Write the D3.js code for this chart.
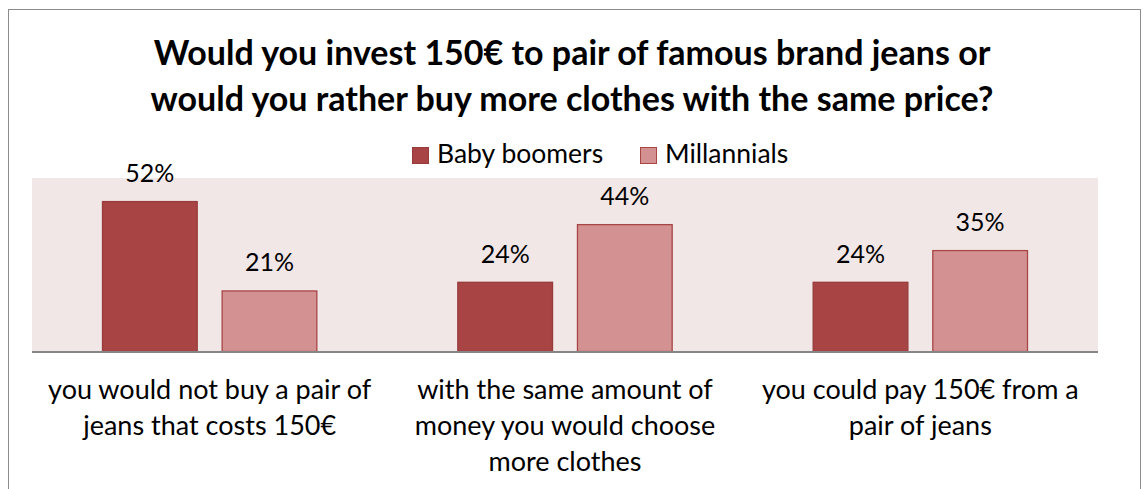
<!DOCTYPE html>
<html><head><meta charset="utf-8">
<script src="https://cdn.jsdelivr.net/npm/d3@7"></script>
<style>
html,body{margin:0;padding:0;background:#fff;}
svg{display:block;font-family:Lato,"Open Sans",sans-serif;}
</style></head>
<body>
<svg id="chart" width="1143" height="489"></svg>
<script>
const titleLines = ["Would you invest 150€ to pair of famous brand jeans or", "would you rather buy more clothes with the same price?"];
const categories = [
  ["you would not buy a pair of", "jeans that costs 150€"],
  ["with the same amount of", "money you would choose", "more clothes"],
  ["you could pay 150€ from a", "pair of jeans"]
];
const seriesNames = ["Baby boomers", "Millannials"];
const babyBoomers = [0.52, 0.24, 0.24];
const millannials = [0.21, 0.44, 0.35];
const yMax = 0.6;

const colors = ["#A84544", "#D49192"];
const strokes = ["#973B3B", "#A84545"];

const svg = d3.select("#chart");
svg.append("rect").attr("x", 8.5).attr("y", 9.5).attr("width", 1132).attr("height", 490)
  .attr("fill", "#fff").attr("stroke", "#8c8c8c").attr("stroke-width", 1);

const plot = {left: 32, right: 1098, top: 178, bottom: 351};
const x0 = d3.scaleBand().domain(d3.range(categories.length)).range([plot.left, plot.right]).paddingInner(0).paddingOuter(0);
const x1 = d3.scaleBand().domain([0, 1]).range([70, x0.bandwidth() - 70]).paddingInner(0.2);
const y = d3.scaleLinear().domain([0, yMax]).range([plot.bottom, plot.top]);

svg.append("rect").attr("x", plot.left).attr("y", plot.top)
  .attr("width", plot.right - plot.left).attr("height", plot.bottom - plot.top).attr("fill", "#F2E7E7");

// title
svg.append("g").selectAll("text").data(titleLines).join("text")
  .attr("x", 572).attr("y", (d, i) => 65 + i * 46)
  .attr("text-anchor", "middle").attr("font-size", 34).attr("font-weight", "bold").attr("fill", "#000")
  .text(d => d);

// legend
const legendItems = [{name: seriesNames[0], x: 412}, {name: seriesNames[1], x: 640}];
const lg = svg.append("g").selectAll("g").data(legendItems).join("g");
lg.append("rect").attr("x", d => d.x + 0.5).attr("y", 147.5).attr("width", 16).attr("height", 16)
  .attr("fill", (d, i) => colors[i]).attr("stroke", (d, i) => strokes[i]);
lg.append("text").attr("x", d => d.x + 25).attr("y", 163).attr("font-size", 26.5).attr("fill", "#000").text(d => d.name);

const data = categories.map((c, i) => ({i, vals: [babyBoomers[i], millannials[i]]}));
const groups = svg.append("g").selectAll("g").data(data).join("g")
  .attr("transform", d => `translate(${x0(d.i)},0)`);

groups.selectAll("rect").data(d => d.vals.map((v, j) => ({v, j}))).join("rect")
  .attr("x", d => x1(d.j) + 0.5).attr("y", d => y(d.v) + 0.5)
  .attr("width", x1.bandwidth() - 1).attr("height", d => plot.bottom - y(d.v))
  .attr("fill", d => colors[d.j]).attr("stroke", d => strokes[d.j]).attr("stroke-width", 1.3);

groups.selectAll("text.val").data(d => d.vals.map((v, j) => ({v, j}))).join("text")
  .attr("class", "val")
  .attr("x", d => x1(d.j) + x1.bandwidth() / 2).attr("y", d => y(d.v) - 19)
  .attr("text-anchor", "middle").attr("font-size", 25).attr("fill", "#000")
  .text(d => d3.format(".0%")(d.v));

svg.append("line").attr("x1", plot.left).attr("x2", plot.right).attr("y1", plot.bottom + 1).attr("y2", plot.bottom + 1)
  .attr("stroke", "#868686").attr("stroke-width", 2);

const catG = svg.append("g").selectAll("text").data(categories).join("text")
  .attr("x", (d, i) => x0(i) + x0.bandwidth() / 2).attr("text-anchor", "middle")
  .attr("font-size", 27).attr("fill", "#000");
catG.selectAll("tspan").data(d => d).join("tspan")
  .attr("x", function() { return d3.select(this.parentNode).attr("x"); })
  .attr("y", (d, i) => 399 + i * 36).text(d => d);
</script>
</body></html>
